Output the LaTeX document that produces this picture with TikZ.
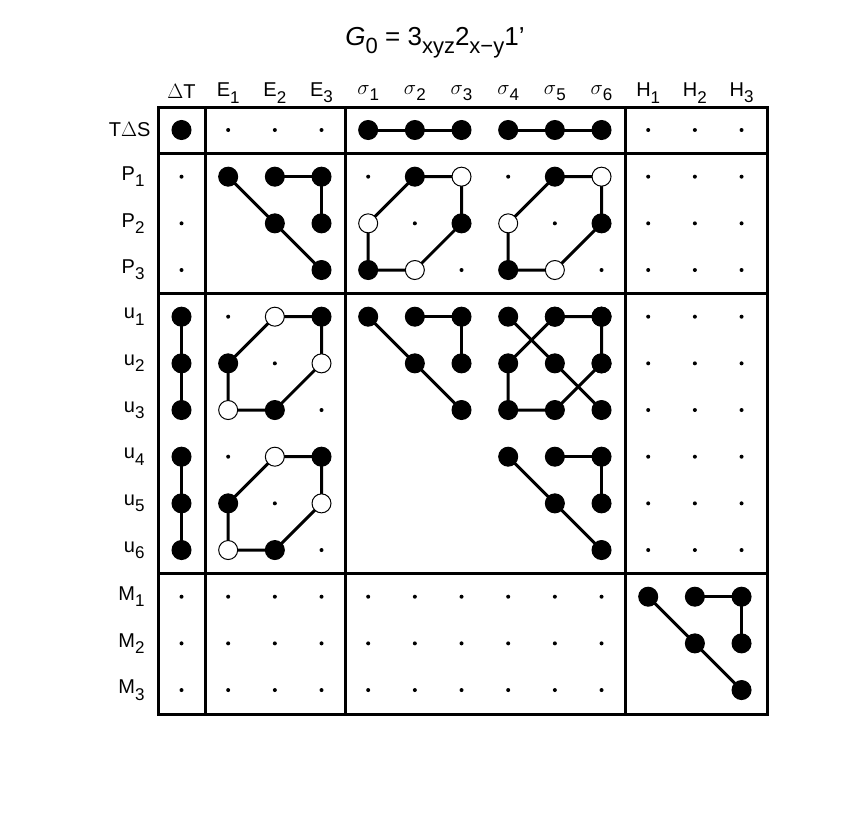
\documentclass[tikz,border=0pt]{standalone}
\usepackage{fontspec}
\setmainfont{Liberation Sans}
\begin{document}
\begin{tikzpicture}[x=1pt,y=-1pt,
  big/.style={circle,draw=black,fill=black,line width=1pt,minimum size=19pt,inner sep=0pt},
  wht/.style={circle,draw=black,fill=white,line width=1pt,minimum size=19pt,inner sep=0pt},
  sm/.style={circle,fill=black,minimum size=4pt,inner sep=0pt},
  ln/.style={line width=3pt},
  frame/.style={line width=3pt},
  lab/.style={font=\fontsize{20}{20}\selectfont}]
\useasboundingbox (0,0) rectangle (856,812);
\def\cx#1{181.5+46.67*(#1)}
\def\ry#1{130+46.67*(#1)}
\newcommand\sub[1]{\raisebox{-0.6ex}{\fontsize{17}{17}\selectfont #1}}
\newcommand\pt[4]{\node[#1] (#4) at ({\cx{#2}},{\ry{#3}}) {};}
\foreach \c/\r in {1/0,2/0,3/0,10/0,11/0,12/0,
  0/1,0/2,0/3, 4/1,5/2,6/3, 7/1,8/2,9/3,
  1/4,2/5,3/6,1/7,2/8,3/9}
  {\pt{sm}{\c}{\r}{s\c-\r}}
\foreach \c in {10,11,12} \foreach \r in {1,...,9} {\pt{sm}{\c}{\r}{h\c-\r}}
\foreach \c in {0,...,9} \foreach \r in {10,11,12} {\pt{sm}{\c}{\r}{m\c-\r}}
\draw[ln] ({\cx4},{\ry0}) -- ({\cx6},{\ry0});
\draw[ln] ({\cx7},{\ry0}) -- ({\cx9},{\ry0});
\pt{big}{0}{0}{a0}
\foreach \c in {4,...,9} {\pt{big}{\c}{0}{t\c}}
\newcommand\tri[3]{%
  \draw[ln] ({\cx{#1}},{\ry{#2}}) -- ({\cx{#1+1}},{\ry{#2+1}}) -- ({\cx{#1+2}},{\ry{#2+2}});
  \draw[ln] ({\cx{#1+1}},{\ry{#2}}) -- ({\cx{#1+2}},{\ry{#2}}) -- ({\cx{#1+2}},{\ry{#2+1}});
  \pt{big}{#1}{#2}{#3a}\pt{big}{#1+1}{#2}{#3b}\pt{big}{#1+2}{#2}{#3c}
  \pt{big}{#1+1}{#2+1}{#3d}\pt{big}{#1+2}{#2+1}{#3e}\pt{big}{#1+2}{#2+2}{#3f}}
\newcommand\hex[9]{%
  \draw[ln] ({\cx{#1}},{\ry{#2+1}}) -- ({\cx{#1+1}},{\ry{#2}}) -- ({\cx{#1+2}},{\ry{#2}}) -- ({\cx{#1+2}},{\ry{#2+1}}) -- ({\cx{#1+1}},{\ry{#2+2}}) -- ({\cx{#1}},{\ry{#2+2}}) -- cycle;
  \pt{#4}{#1+1}{#2}{#3b}\pt{#5}{#1+2}{#2}{#3c}\pt{#6}{#1+2}{#2+1}{#3d}
  \pt{#7}{#1+1}{#2+2}{#3e}\pt{#8}{#1}{#2+2}{#3f}\pt{#9}{#1}{#2+1}{#3g}}
\tri{1}{1}{pe}
\hex{4}{1}{ps1}{big}{wht}{big}{wht}{big}{wht}
\hex{7}{1}{ps2}{big}{wht}{big}{wht}{big}{wht}
\hex{1}{4}{ue1}{wht}{big}{wht}{big}{wht}{big}
\hex{1}{7}{ue2}{wht}{big}{wht}{big}{wht}{big}
\tri{4}{4}{us1}
\hex{7}{4}{us2}{big}{big}{big}{big}{big}{big}
\tri{7}{4}{us3}
\tri{7}{7}{us4}
\tri{10}{10}{mh}
\draw[ln] ({\cx0},{\ry4}) -- ({\cx0},{\ry6});
\draw[ln] ({\cx0},{\ry7}) -- ({\cx0},{\ry9});
\foreach \r in {4,...,9} {\pt{big}{0}{\r}{d\r}}
\draw[frame] (158,107) rectangle (767,714);
\draw[frame] (205,107) -- (205,714);
\draw[frame] (345,107) -- (345,714);
\draw[frame] (625,107) -- (625,714);
\draw[frame] (158,153) -- (767,153);
\draw[frame] (158,293) -- (767,293);
\draw[frame] (158,573) -- (767,573);
\node[lab] (hdT) at ({\cx0},91) {$\Delta$T};
\foreach \i in {1,2,3} {\node[lab] (hE\i) at ({\cx{\i}},93) {E\sub{\i}};}
\foreach \i in {1,...,6} {\node[lab] (hs\i) at ({\cx{3+\i}},93) {$\sigma$\sub{\i}};}
\foreach \i in {1,2,3} {\node[lab] (hH\i) at ({\cx{9+\i}},93) {H\sub{\i}};}
\node[lab,anchor=east] (rTS) at (154,{\ry0}) {T$\Delta$S};
\foreach \i in {1,2,3} {\node[lab,anchor=east] (rP\i) at (148,{\ry{\i}}) {P\sub{\i}};}
\foreach \i in {1,...,6} {\node[lab,anchor=east] (ru\i) at (148,{\ry{3+\i}}) {u\sub{\i}};}
\foreach \i in {1,2,3} {\node[lab,anchor=east] (rM\i) at (148,{\ry{9+\i}}) {M\sub{\i}};}
\node[font=\fontsize{26}{26}\selectfont] (title) at (435,43) {\textit{G}\raisebox{-0.6ex}{\fontsize{22}{22}\selectfont 0} = 3\raisebox{-0.6ex}{\fontsize{22}{22}\selectfont xyz}2\raisebox{-0.6ex}{\fontsize{22}{22}\selectfont x\textminus y}1'};
\end{tikzpicture}
\end{document}
